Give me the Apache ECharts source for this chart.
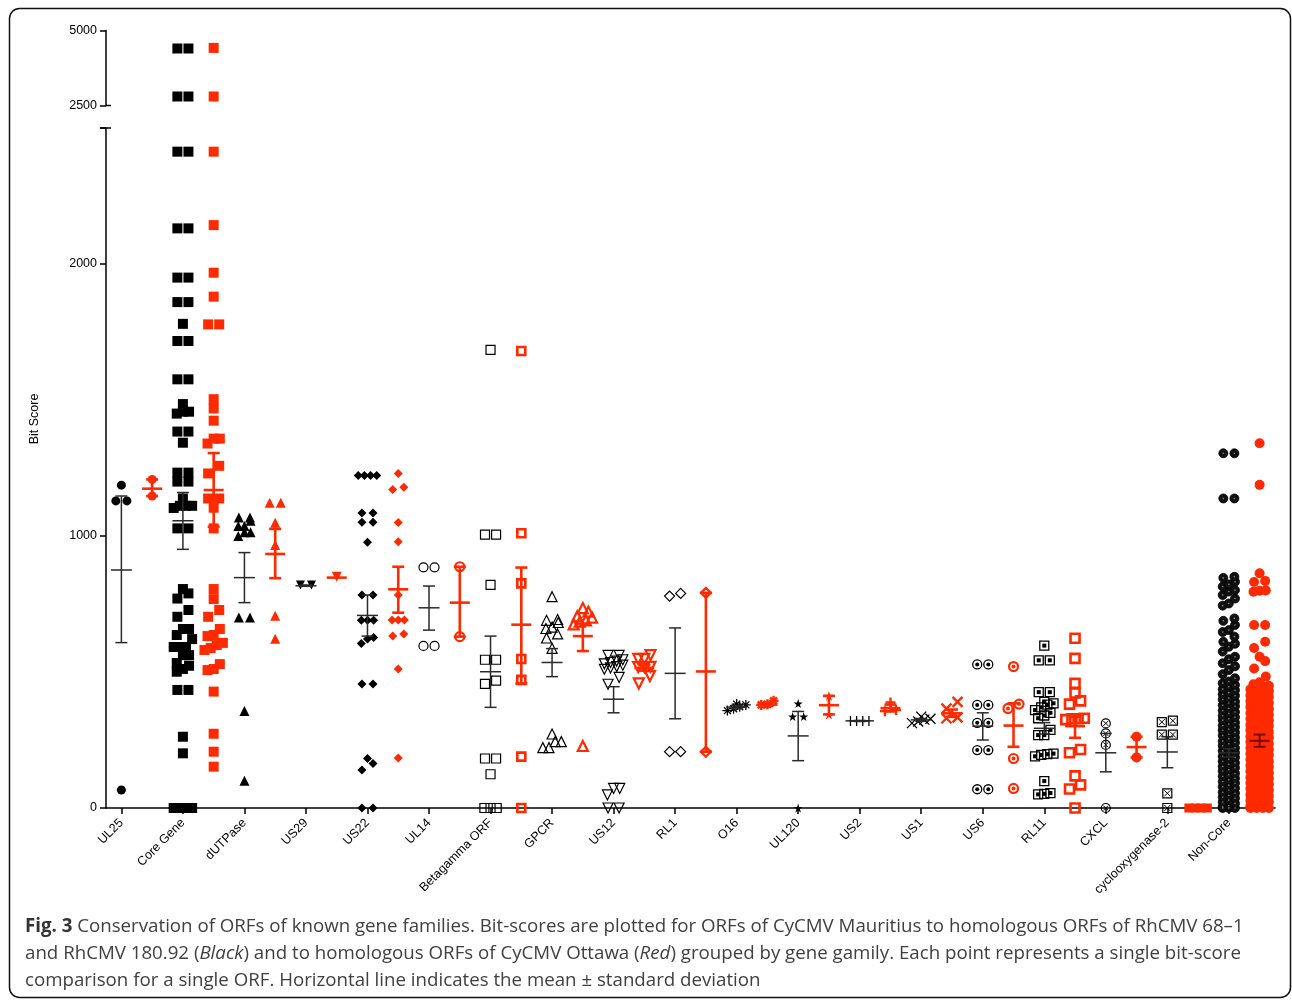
<!DOCTYPE html>
<html>
<head>
<meta charset="utf-8">
<title>Fig. 3</title>
<script src="https://cdn.jsdelivr.net/npm/echarts@6/dist/echarts.min.js"></script>
<style>
  html, body { margin: 0; padding: 0; background: #fff; }
  #chart { width: 1292px; height: 1000px; }
</style>
</head>
<body>
<div id="chart"></div>
<script>
// gene families, one black (RhCMV) and one red (CyCMV Ottawa) column each
var categories = ['UL25', 'Core Gene', 'dUTPase', 'US29', 'US22', 'UL14', 'Betagamma ORF', 'GPCR',
  'US12', 'RL1', 'O16', 'UL120', 'US2', 'US1', 'US6', 'RL11', 'CXCL', 'cyclooxygenase-2', 'Non-Core'];

// bit scores, black columns
var blackScores = [
  [1187, 1129, 1129, 66],
  [4400, 4400, 2800, 2800, 2413, 2413, 2131, 2131, 1950, 1950, 1860, 1860, 1780, 1717, 1717, 1576, 1576,
    1485, 1457, 1457, 1450, 1384, 1384, 1343, 1233, 1233, 1200, 1200, 1138, 1111, 1111, 1111, 1103, 1028, 1028,
    805, 789, 770, 728, 703, 658, 658, 636, 621, 592, 592, 592, 562, 562, 533, 523, 511, 501, 434, 434, 262, 201,
    0, 0, 0, 0],
  [1068, 1068, 1056, 1037, 1037, 1014, 1014, 1000, 700, 700, 357, 100],
  [820, 820],
  [1222, 1222, 1222, 1222, 1085, 1085, 1051, 1051, 977, 783, 783, 690, 690, 690, 627, 621, 605, 456, 456,
    182, 164, 140, 0, 0],
  [885, 885, 596, 596],
  [1684, 1005, 1005, 820, 545, 545, 468, 456, 182, 182, 124, 0, 0, 0],
  [777, 693, 690, 682, 665, 660, 640, 625, 587, 272, 244, 244, 222, 222],
  [561, 561, 545, 540, 535, 530, 525, 520, 515, 510, 480, 455, 72, 72, 48, 0, 0],
  [789, 779, 207, 207],
  [382, 379, 372, 365, 358],
  [384, 336, 336, 0],
  [320, 320, 320, 320],
  [336, 328, 325, 318, 312],
  [528, 528, 379, 379, 313, 313, 213, 213, 69, 69],
  [597, 543, 543, 426, 426, 390, 385, 380, 370, 360, 350, 340, 330, 287, 268, 268, 200, 198, 195, 190,
    99, 55, 52, 50],
  [311, 274, 232, 0],
  [321, 316, 270, 270, 54, 0],
  [1304, 1304, 1138, 1138, 850, 846, 832, 822, 814, 801, 796, 783, 770, 752, 744, 697, 688, 673, 654, 647,
    630, 611, 604, 593, 575, 556, 547, 532, 521, 507, 492, 477, 465, 459, 452, 446, 437, 433, 424, 418, 413,
    404, 399, 391, 386, 378, 374, 367, 358, 353, 348, 339, 334, 328, 323, 314, 309, 303, 297, 290, 286, 278,
    271, 267, 259, 255, 246, 241, 236, 229, 221, 217, 210, 203, 199, 190, 186, 179, 172, 166, 161, 153, 148,
    141, 136, 127, 122, 117, 109, 104, 97, 91, 84, 78, 73, 66, 58, 54, 47, 40, 36, 29, 22, 17, 9, 4, 0, 0, 0]
];

// bit scores, red columns
var redScores = [
  [1208, 1147],
  [4420, 2800, 2413, 2143, 1968, 1880, 1778, 1778, 1503, 1469, 1424, 1358, 1358, 1340, 1258, 1230, 1138, 1138,
    1104, 1028, 805, 768, 728, 703, 658, 636, 632, 607, 599, 588, 581, 529, 511, 507, 428, 273, 207, 152],
  [1122, 1122, 1049, 967, 707, 622],
  [850],
  [1230, 1179, 1171, 1050, 979, 783, 691, 691, 691, 640, 632, 511, 184],
  [887, 630],
  [1680, 1010, 826, 548, 471, 189, 0],
  [735, 722, 705, 700, 690, 685, 675, 228],
  [562, 548, 548, 519, 518, 518, 485, 458],
  [791, 207],
  [379, 381, 394],
  [412, 344],
  [388, 360, 356],
  [390, 365, 333, 330],
  [520, 382, 366, 182, 72],
  [624, 550, 458, 423, 394, 382, 330, 328, 328, 325, 215, 203, 118, 85, 70, 0],
  [262, 186],
  [0, 0, 0, 0],
  [1341, 1188, 863, 835, 831, 800, 799, 795, 673, 673, 611, 588, 556, 540, 513, 483, 462, 455, 449, 446,
    441, 436, 430, 425, 418, 414, 409, 401, 397, 392, 386, 380, 377, 371, 364, 360, 354, 349, 343, 339, 332,
    327, 322, 318, 311, 305, 302, 296, 290, 286, 279, 275, 268, 263, 259, 253, 247, 243, 236, 232, 226, 221,
    215, 211, 204, 199, 195, 188, 183, 178, 172, 168, 161, 156, 151, 145, 140, 135, 129, 124, 119, 112, 108,
    103, 96, 92, 87, 81, 76, 71, 65, 60, 55, 49, 44, 39, 32, 28, 23, 17, 12, 7, 0, 0, 0, 0]
];

// mean and error bar ends
var blackMean = [875, 1056, 847, 817, 708, 736, 501, 535, 400, 495, 371, 265, 320, 324, 301, 293, 203, 206, 203];
var blackLow = [608, 951, 755, 815, 632, 654, 370, 483, 350, 328, 365, 174, 318, 319, 250, 272, 133, 148, 188];
var blackHigh = [1147, 1160, 939, 820, 783, 816, 632, 586, 446, 662, 377, 355, 322, 329, 350, 314, 274, 262, 218];
var redMean = [1174, 1169, 934, 847, 804, 755, 674, 632, 515, 502, 380, 378, 367, 348, 303, 301, 224, 0, 247];
var redLow = [1147, 1034, 845, 847, 718, 630, 458, 577, 505, 207, 375, 344, 355, 335, 225, 258, 186, 0, 225];
var redHigh = [1208, 1305, 1026, 847, 887, 887, 884, 678, 525, 791, 385, 412, 380, 362, 385, 336, 262, 0, 270];

var lowerTicks = [0, 1000, 2000];
var upperTicks = [2500, 5000];

var K = '#000';
var R = '#ff2a00';
var NONE = 'rgba(0,0,0,0)';
var FONT = "'Liberation Sans', Arial, sans-serif";
var CAP_FONT = "'Open Sans', sans-serif";
var CAP_COLOR = '#404040';
var CAP_SIZE = 18.7;
var LEFT = 106, RIGHT_X = 1275;
var LOW_TOP = 128, LOW_H = 680, UP_TOP = 30.5, UP_H = 75;

var ASTER = 'path://M5,0L5,10M0,5L10,5M1.5,1.5L8.5,8.5M1.5,8.5L8.5,1.5';
var PLUS = 'path://M0,5L10,5M5,0L5,10';
var CROSS = 'path://M0,0L10,10M0,10L10,0';
var STAR = 'path://M5,0L6.2,3.6L10,3.6L6.9,5.9L8.1,9.5L5,7.3L1.9,9.5L3.1,5.9L0,3.6L3.8,3.6Z';

function fill(sym, size, c, rot) {
  return { symbol: sym, size: size, rotate: rot || 0, fill: c, stroke: c, bw: 0 };
}
function open(sym, size, c, bw, rot) {
  return { symbol: sym, size: size, rotate: rot || 0, fill: NONE, stroke: c, bw: bw };
}

var blackMarks = [
  [fill('circle', 9, K)],
  [fill('rect', 10, K)],
  [fill('triangle', 10, K)],
  [fill('triangle', 9, K, 180)],
  [fill('diamond', 9, K)],
  [open('circle', 9, K, 1.2)],
  [open('rect', 9, K, 1.2)],
  [open('triangle', 10, K, 1.2)],
  [open('triangle', 10, K, 1.2, 180)],
  [open('diamond', 10, K, 1.2)],
  [open(ASTER, 10, K, 1.3)],
  [fill(STAR, 9, K)],
  [open(PLUS, 10, K, 1.3)],
  [open(CROSS, 10, K, 1.3)],
  [open('circle', 9, K, 1.3), fill('circle', 4, K)],
  [open('rect', 9, K, 1.3), fill('rect', 4, K)],
  [open('circle', 9, K, 1.2), open(CROSS, 5, K, 1)],
  [open('rect', 9, K, 1.2), open(CROSS, 6, K, 1)],
  [{ symbol: 'circle', size: 9, rotate: 0, fill: '#111', stroke: K, bw: 0.8 }, fill('circle', 1.6, '#8a8a8a')]
];

var redMarks = [
  [fill('circle', 9, R)],
  [fill('rect', 10, R)],
  [fill('triangle', 10, R)],
  [fill('triangle', 10, R, 180)],
  [fill('diamond', 9, R)],
  [open('circle', 9, R, 2.2)],
  [open('rect', 8, R, 2.6)],
  [open('triangle', 10, R, 2.2)],
  [open('triangle', 10, R, 2.2, 180)],
  [open('diamond', 10, R, 2.2)],
  [open(ASTER, 10, R, 2.4)],
  [fill(STAR, 10, R)],
  [open(PLUS, 10, R, 2.4)],
  [open(CROSS, 10, R, 2.4)],
  [open('circle', 9, R, 2.2), fill('circle', 4, R)],
  [open('rect', 9, R, 2.6)],
  [fill('circle', 10, R)],
  [fill('rect', 9, R)],
  [fill('circle', 10, R)]
];

// spread points that sit at (nearly) the same height side by side, like a dot plot
function layoutColumn(vals, center, perRow) {
  var pts = [];
  var sorted = vals.slice().sort(function (a, b) { return a - b; });
  var row = [];
  function pxPerUnit(v) { return v > 2500 ? UP_H / 2500 : LOW_H / 2500; }
  function flush() {
    var n = row.length;
    var gap = n === 2 ? 0.36 : 0.2;
    row.forEach(function (v, k) {
      pts.push([center + (k - (n - 1) / 2) * gap, v]);
    });
    row = [];
  }
  sorted.forEach(function (v) {
    if (row.length && ((v - row[0]) * pxPerUnit(v) >= 8 || row.length >= perRow ||
        (row[0] > 2500) !== (v > 2500))) {
      flush();
    }
    row.push(v);
  });
  flush();
  return pts;
}

var series = [];
function addColumn(vals, xc, marks, perRow) {
  var pts = layoutColumn(vals, xc, perRow);
  var low = pts.filter(function (p) { return p[1] <= 2500; });
  var high = pts.filter(function (p) { return p[1] > 2500; });
  marks.forEach(function (m) {
    [[low, 1, 0], [high, 2, 1]].forEach(function (part) {
      if (!part[0].length) return;
      series.push({
        type: 'scatter',
        xAxisIndex: part[1],
        yAxisIndex: part[2],
        data: part[0],
        symbol: m.symbol,
        symbolSize: m.size,
        symbolRotate: m.rotate,
        itemStyle: { color: m.fill, borderColor: m.stroke, borderWidth: m.bw, opacity: 1 },
        silent: true,
        z: 2
      });
    });
  });
}

for (var i = 0; i < categories.length; i++) {
  addColumn(blackScores[i], 2 * i, blackMarks[i], i === 18 ? 3 : 4);
  addColumn(redScores[i], 2 * i + 1, redMarks[i], 4);
}

var errData = [];
for (var j = 0; j < categories.length; j++) {
  errData.push([2 * j, blackMean[j], blackLow[j], blackHigh[j], 0]);
  errData.push([2 * j + 1, redMean[j], redLow[j], redHigh[j], j === 18 ? 2 : 1]);
}

series.push({
  type: 'custom',
  xAxisIndex: 1,
  yAxisIndex: 0,
  data: errData,
  silent: true,
  z: 5,
  renderItem: function (params, api) {
    var x = api.value(0);
    var kind = api.value(4);
    var pm = api.coord([x, api.value(1)]);
    var pl = api.coord([x, api.value(2)]);
    var ph = api.coord([x, api.value(3)]);
    var st = kind === 0 ? { stroke: '#2a2a2a', lineWidth: 1.5 }
      : { stroke: kind === 2 ? '#7a0a00' : R, lineWidth: kind === 2 ? 2 : 2.6 };
    var half = kind === 0 ? 10.5 : 10, cap = 6;
    var kids = [
      { type: 'line', shape: { x1: pm[0] - half, y1: pm[1], x2: pm[0] + half, y2: pm[1] }, style: st }
    ];
    if (ph[1] !== pl[1]) {
      kids.push({ type: 'line', shape: { x1: pl[0], y1: pl[1], x2: ph[0], y2: ph[1] }, style: st });
      kids.push({ type: 'line', shape: { x1: ph[0] - cap, y1: ph[1], x2: ph[0] + cap, y2: ph[1] }, style: st });
      kids.push({ type: 'line', shape: { x1: pl[0] - cap, y1: pl[1], x2: pl[0] + cap, y2: pl[1] }, style: st });
    }
    return { type: 'group', children: kids };
  }
});

var slots = [];
categories.forEach(function (c) { slots.push(c); slots.push(''); });
function even(i) { return i % 2 === 0; }

var axisLine = { show: true, onZero: false, lineStyle: { color: K, width: 1.5 } };
var tickStyle = { color: K, width: 1.5 };

var option = {
  animation: false,
  backgroundColor: '#fff',
  grid: [
    { left: LEFT, width: RIGHT_X - LEFT, top: LOW_TOP, height: LOW_H },
    { left: LEFT, width: RIGHT_X - LEFT, top: UP_TOP, height: UP_H }
  ],
  xAxis: [
    {
      gridIndex: 0, type: 'category', data: slots, boundaryGap: true,
      axisLine: axisLine,
      axisTick: { show: true, alignWithLabel: true, interval: even, length: 6, lineStyle: tickStyle },
      axisLabel: { interval: even, rotate: 45, fontSize: 12.5, color: K, fontFamily: FONT, margin: 13 },
      splitLine: { show: false }
    },
    { gridIndex: 0, type: 'value', min: -0.5, max: 37.5, show: false },
    { gridIndex: 1, type: 'value', min: -0.5, max: 37.5, show: false }
  ],
  yAxis: [
    {
      gridIndex: 0, type: 'value', min: lowerTicks[0], max: 2500, interval: 1000,
      axisLine: axisLine,
      axisTick: { show: true, length: 6, lineStyle: tickStyle },
      axisLabel: {
        fontSize: 12.5, color: K, fontFamily: FONT, margin: 9,
        formatter: function (v) { return lowerTicks.indexOf(v) >= 0 ? String(v) : ''; }
      },
      splitLine: { show: false }
    },
    {
      gridIndex: 1, type: 'value', min: upperTicks[0], max: upperTicks[1], interval: 2500,
      axisLine: axisLine,
      axisTick: { show: true, length: 6, lineStyle: tickStyle },
      axisLabel: {
        fontSize: 12.5, color: K, fontFamily: FONT, margin: 9,
        formatter: function (v) { return String(v); }
      },
      splitLine: { show: false }
    }
  ],
  graphic: [
    {
      type: 'rect', shape: { x: 9.5, y: 8.5, width: 1281, height: 989, r: 10 },
      style: { fill: 'none', stroke: '#111', lineWidth: 1.5 }, silent: true
    },
    // break marks of the y axis
    { type: 'line', shape: { x1: LEFT - 6, y1: LOW_TOP, x2: LEFT + 5, y2: LOW_TOP }, style: { stroke: K, lineWidth: 1.5 } },
    { type: 'line', shape: { x1: LEFT, y1: UP_TOP + UP_H, x2: LEFT + 5, y2: UP_TOP + UP_H }, style: { stroke: K, lineWidth: 1.5 } },
    {
      type: 'text', x: 35, y: 419, rotation: Math.PI / 2,
      style: { text: 'Bit Score', fontSize: 12.5, fontFamily: FONT, fill: K, align: 'center', verticalAlign: 'middle' }
    },
    {
      type: 'text', x: 25, y: 927,
      style: {
        text: '{b|Fig. 3} Conservation of ORFs of known gene families. Bit-scores are plotted for ORFs of CyCMV Mauritius to homologous ORFs of RhCMV 68–1',
        fontSize: CAP_SIZE, fontFamily: CAP_FONT, fill: CAP_COLOR, verticalAlign: 'middle',
        rich: { b: { fontSize: CAP_SIZE, fontFamily: CAP_FONT, fontWeight: 'bold', fill: '#333' } }
      }
    },
    {
      type: 'text', x: 25, y: 954,
      style: {
        text: 'and RhCMV 180.92 ({i|Black}) and to homologous ORFs of CyCMV Ottawa ({i|Red}) grouped by gene gamily. Each point represents a single bit-score',
        fontSize: CAP_SIZE, fontFamily: CAP_FONT, fill: CAP_COLOR, verticalAlign: 'middle',
        rich: { i: { fontSize: CAP_SIZE, fontFamily: CAP_FONT, fontStyle: 'italic', fill: CAP_COLOR } }
      }
    },
    {
      type: 'text', x: 25, y: 981,
      style: {
        text: 'comparison for a single ORF. Horizontal line indicates the mean ± standard deviation',
        fontSize: CAP_SIZE, fontFamily: CAP_FONT, fill: CAP_COLOR, verticalAlign: 'middle'
      }
    }
  ],
  series: series
};

var chart = echarts.init(document.getElementById('chart'));
chart.setOption(option);
</script>
</body>
</html>
